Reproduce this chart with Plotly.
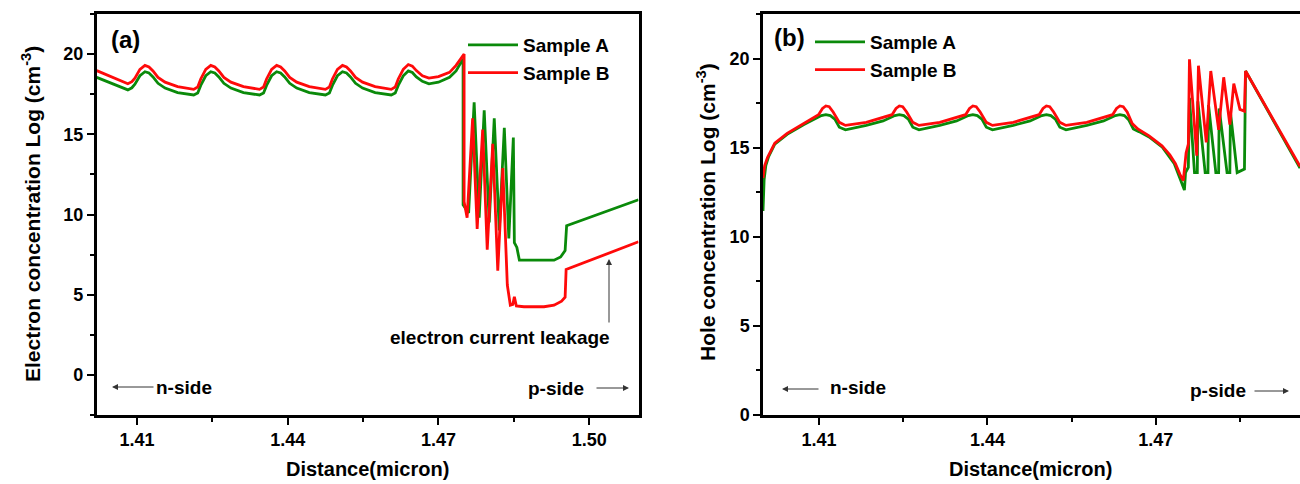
import plotly.graph_objects as go

# ---------------- data ----------------
# Panel (a): electron concentration, Sample A (green)
xa_A = [1.4020, 1.4040, 1.4060, 1.4082, 1.4090, 1.4096, 1.4106, 1.4116, 1.4124, 1.4132, 1.4142, 1.4156, 1.4181, 1.4213,
        1.4221, 1.4227, 1.4237, 1.4247, 1.4255, 1.4263, 1.4273, 1.4287, 1.4312, 1.4344,
        1.4352, 1.4358, 1.4368, 1.4378, 1.4386, 1.4394, 1.4404, 1.4418, 1.4443, 1.4475,
        1.4483, 1.4489, 1.4499, 1.4509, 1.4517, 1.4525, 1.4535, 1.4549, 1.4574, 1.4606,
        1.4614, 1.4620, 1.4630, 1.4640, 1.4648, 1.4656, 1.4668, 1.4681, 1.4700, 1.4722, 1.4735, 1.4745, 1.4749,
        1.4749, 1.4760, 1.4771, 1.4781, 1.4791, 1.4801, 1.4811, 1.4821, 1.4831, 1.4840, 1.4849, 1.4851, 1.4856,
        1.4859, 1.4861, 1.4930, 1.4943, 1.4952, 1.4955, 1.5098]
ya_A = [18.55, 18.30, 18.00, 17.77, 17.90, 18.12, 18.65, 18.90, 18.82, 18.58, 18.18, 17.88, 17.60, 17.45,
        17.58, 18.05, 18.65, 18.90, 18.82, 18.58, 18.18, 17.88, 17.60, 17.45,
        17.58, 18.05, 18.65, 18.90, 18.82, 18.58, 18.18, 17.88, 17.60, 17.45,
        17.58, 18.05, 18.65, 18.90, 18.82, 18.58, 18.18, 17.88, 17.60, 17.45,
        17.58, 18.05, 18.65, 18.95, 18.85, 18.58, 18.30, 18.15, 18.25, 18.55, 18.95, 19.45, 19.70,
        10.60, 10.10, 17.00, 9.80, 16.50, 9.50, 16.00, 9.00, 15.40, 8.50, 14.80, 8.25, 7.95,
        7.50, 7.15, 7.15, 7.35, 7.75, 9.30, 10.92]

# Panel (a): electron concentration, Sample B (red)
xa_B = [1.4020, 1.4040, 1.4060, 1.4082, 1.4090, 1.4096, 1.4106, 1.4116, 1.4124, 1.4132, 1.4142, 1.4156, 1.4181, 1.4213,
        1.4221, 1.4227, 1.4237, 1.4247, 1.4255, 1.4263, 1.4273, 1.4287, 1.4312, 1.4344,
        1.4352, 1.4358, 1.4368, 1.4378, 1.4386, 1.4394, 1.4404, 1.4418, 1.4443, 1.4475,
        1.4483, 1.4489, 1.4499, 1.4509, 1.4517, 1.4525, 1.4535, 1.4549, 1.4574, 1.4606,
        1.4614, 1.4620, 1.4630, 1.4640, 1.4648, 1.4656, 1.4668, 1.4681, 1.4700, 1.4722, 1.4735, 1.4745, 1.4751,
        1.4751, 1.4757, 1.4768, 1.4777, 1.4788, 1.4797, 1.4808, 1.4818, 1.4828, 1.4837, 1.4843, 1.4848, 1.4851,
        1.4855, 1.4870, 1.4910, 1.4930, 1.4945, 1.4952, 1.4954, 1.5098]
ya_B = [18.97, 18.70, 18.40, 18.15, 18.28, 18.50, 19.05, 19.30, 19.20, 18.95, 18.55, 18.25, 17.97, 17.80,
        17.95, 18.45, 19.05, 19.30, 19.20, 18.95, 18.55, 18.25, 17.97, 17.80,
        17.95, 18.45, 19.05, 19.30, 19.20, 18.95, 18.55, 18.25, 17.97, 17.80,
        17.95, 18.45, 19.05, 19.30, 19.20, 18.95, 18.55, 18.25, 17.97, 17.80,
        17.95, 18.45, 19.05, 19.35, 19.25, 18.97, 18.65, 18.50, 18.60, 18.86, 19.30, 19.75, 20.00,
        10.80, 9.80, 16.00, 9.10, 15.30, 7.80, 14.40, 6.50, 12.90, 5.60, 4.35, 4.40, 4.87,
        4.30, 4.25, 4.25, 4.35, 4.60, 4.85, 6.57, 8.30]

# Panel (b): hole concentration, Sample A (green)
xb_A = [1.4000, 1.4002, 1.4005, 1.4010, 1.4021, 1.4043, 1.4073, 1.4095,
        1.4104, 1.4112, 1.4120, 1.4128, 1.4136, 1.4147, 1.4184, 1.4214, 1.4226,
        1.4235, 1.4243, 1.4251, 1.4259, 1.4267, 1.4278, 1.4315, 1.4345, 1.4357,
        1.4366, 1.4374, 1.4382, 1.4390, 1.4398, 1.4409, 1.4446, 1.4476, 1.4488,
        1.4497, 1.4505, 1.4513, 1.4521, 1.4529, 1.4540, 1.4577, 1.4607, 1.4619,
        1.4628, 1.4636, 1.4644, 1.4652, 1.4660, 1.4670, 1.4688, 1.4711, 1.4733, 1.4744, 1.4751,
        1.4753, 1.4758, 1.4760, 1.4769, 1.4774, 1.4775, 1.4788, 1.4793, 1.4794, 1.4807, 1.4812, 1.4813,
        1.4827, 1.4832, 1.4833, 1.4845, 1.4858, 1.4860, 1.4957]
yb_A = [11.45, 13.20, 14.00, 14.50, 15.20, 15.75, 16.30, 16.65,
        16.80, 16.85, 16.80, 16.60, 16.15, 16.00, 16.25, 16.50, 16.65,
        16.80, 16.85, 16.80, 16.60, 16.15, 16.00, 16.25, 16.50, 16.65,
        16.80, 16.85, 16.80, 16.60, 16.15, 16.00, 16.25, 16.50, 16.65,
        16.80, 16.85, 16.80, 16.60, 16.15, 16.00, 16.25, 16.50, 16.65,
        16.80, 16.85, 16.80, 16.55, 16.05, 15.90, 15.60, 15.05, 14.10, 13.20, 12.62,
        13.60, 13.90, 17.80, 13.60, 13.60, 17.60, 13.60, 13.60, 17.40, 13.60, 13.60, 17.20,
        13.60, 13.60, 17.00, 13.60, 13.80, 19.30, 13.85]

# Panel (b): hole concentration, Sample B (red)
xb_B = [1.4000, 1.4003, 1.4008, 1.4021, 1.4043, 1.4073, 1.4095, 1.4099,
        1.4106, 1.4112, 1.4118, 1.4125, 1.4136, 1.4147, 1.4184, 1.4214, 1.4230,
        1.4237, 1.4243, 1.4249, 1.4256, 1.4267, 1.4278, 1.4315, 1.4345, 1.4361,
        1.4368, 1.4374, 1.4380, 1.4387, 1.4398, 1.4409, 1.4446, 1.4476, 1.4492,
        1.4499, 1.4505, 1.4511, 1.4518, 1.4529, 1.4540, 1.4577, 1.4607, 1.4623,
        1.4630, 1.4636, 1.4642, 1.4649, 1.4658, 1.4668, 1.4688, 1.4711, 1.4725, 1.4735, 1.4743, 1.4749,
        1.4754, 1.4758, 1.4760, 1.4773, 1.4776, 1.4790, 1.4798, 1.4812, 1.4821, 1.4832, 1.4839,
        1.4850, 1.4858, 1.4860, 1.4957]
yb_B = [13.30, 14.00, 14.45, 15.25, 15.80, 16.35, 16.75, 16.85,
        17.20, 17.34, 17.30, 17.00, 16.42, 16.25, 16.42, 16.68, 16.85,
        17.20, 17.34, 17.30, 17.00, 16.42, 16.25, 16.42, 16.68, 16.85,
        17.20, 17.34, 17.30, 17.00, 16.42, 16.25, 16.42, 16.68, 16.85,
        17.20, 17.34, 17.30, 17.00, 16.42, 16.25, 16.42, 16.68, 16.85,
        17.20, 17.34, 17.30, 17.00, 16.35, 16.05, 15.66, 15.10, 14.60, 14.10, 13.50, 13.15,
        14.70, 15.20, 19.96, 14.55, 19.60, 15.30, 19.30, 16.00, 18.95, 16.30, 18.60,
        17.15, 17.05, 19.30, 13.95]

series_names = ["Sample A", "Sample B"]
x_tickvals = [1.41, 1.44, 1.47, 1.50]
x_ticktext = ["1.41", "1.44", "1.47", "1.50"]

# ---------------- styling ----------------
W, H = 1300, 484
GREEN = "#0a8a0a"
RED = "#ff0a0a"
FONT = "Arial, 'Liberation Sans', sans-serif"
LW = 2.8


def px(x):
    return x / W


def py(y):
    return 1 - y / H


fig = go.Figure()
fig.add_trace(go.Scatter(x=xa_A, y=ya_A, mode="lines", name=series_names[0],
                         line=dict(color=GREEN, width=LW), xaxis="x", yaxis="y", legend="legend"))
fig.add_trace(go.Scatter(x=xa_B, y=ya_B, mode="lines", name=series_names[1],
                         line=dict(color=RED, width=LW), xaxis="x", yaxis="y", legend="legend"))
fig.add_trace(go.Scatter(x=xb_A, y=yb_A, mode="lines", name=series_names[0],
                         line=dict(color=GREEN, width=LW), xaxis="x2", yaxis="y2", legend="legend2"))
fig.add_trace(go.Scatter(x=xb_B, y=yb_B, mode="lines", name=series_names[1],
                         line=dict(color=RED, width=LW), xaxis="x2", yaxis="y2", legend="legend2"))

tickfont = dict(family=FONT, size=18, color="black", weight="bold")
common_x = dict(showline=True, linewidth=2.5, linecolor="black", ticks="outside", ticklen=7,
                tickwidth=2.2, tickcolor="black", tickvals=x_tickvals, ticktext=x_ticktext,
                tickfont=tickfont, showgrid=False, zeroline=False, automargin=False,
                minor=dict(ticks="outside", ticklen=4, tickwidth=2.2, tickcolor="black",
                           tickvals=[1.425, 1.455, 1.485], showgrid=False))
common_y = dict(showline=True, linewidth=2.5, linecolor="black", ticks="outside", ticklen=7,
                tickwidth=2.2, tickcolor="black", dtick=5, tick0=0, tickfont=tickfont,
                showgrid=False, zeroline=False, automargin=False,
                minor=dict(ticks="outside", ticklen=4, tickwidth=2.2, tickcolor="black",
                           dtick=2.5, showgrid=False))

ydom = [py(415), py(14)]
legfont = dict(family=FONT, size=19, color="black", weight="bold")
fig.update_layout(
    width=W, height=H,
    margin=dict(l=0, r=0, t=0, b=0),
    paper_bgcolor="white", plot_bgcolor="white",
    xaxis=dict(domain=[px(96.7), px(638.5)], range=[1.402, 1.5098], mirror=True, anchor="y", **common_x),
    yaxis=dict(domain=ydom, range=[-2.5, 22.5], mirror=True, anchor="x", **common_y),
    xaxis2=dict(domain=[px(763), 1.0], range=[1.400, 1.4957], mirror=True, anchor="y2", **common_x),
    yaxis2=dict(domain=ydom, range=[0, 22.5], mirror=False, anchor="x2", **common_y),
    legend=dict(x=px(463), y=py(26), xanchor="left", yanchor="top", bgcolor="rgba(0,0,0,0)",
                font=legfont, itemwidth=50, tracegroupgap=0),
    legend2=dict(x=px(810), y=py(23), xanchor="left", yanchor="top", bgcolor="rgba(0,0,0,0)",
                 font=legfont, itemwidth=50, tracegroupgap=0),
    showlegend=True,
)

txt = dict(family=FONT, color="black", weight="bold")
ann = []


def label(x, y, text, size, angle=0):
    ann.append(dict(x=px(x), y=py(y), xref="paper", yref="paper", text=text, showarrow=False,
                    font=dict(size=size, **txt), textangle=angle, xanchor="center", yanchor="middle"))


def arrow(x_head, y_head, x_tail, y_tail):
    ann.append(dict(x=px(x_head), y=py(y_head), xref="paper", yref="paper", text="",
                    showarrow=True, ax=x_tail - x_head, ay=y_tail - y_head, arrowhead=2,
                    arrowsize=1.2, arrowwidth=1, arrowcolor="#333333", standoff=0, startstandoff=0))


# panel labels
label(125, 39, "(a)", 24)
label(790, 37, "(b)", 24)
# axis titles
label(367, 469, "Distance(micron)", 20)
label(1030, 469, "Distance(micron)", 20)
label(31, 214, "Electron concentration Log (cm<sup>-3</sup>)", 21, -90)
label(706, 212, "Hole concentration Log (cm<sup>-3</sup>)", 21, -90)
# side annotations
label(184, 387, "n-side", 19)
arrow(112, 387, 155, 387)
label(556, 388, "p-side", 19)
arrow(629, 388, 595, 388)
label(858, 387, "n-side", 19)
arrow(782, 389, 820, 389)
label(1218, 390, "p-side", 19)
arrow(1289, 391, 1253, 391)
label(500, 337, "electron current leakage", 19)
arrow(609, 259, 609, 324)

fig.update_layout(annotations=ann)
fig.write_html("out.html", config={"displayModeBar": False},
               post_script="document.body.style.margin='0px';")
